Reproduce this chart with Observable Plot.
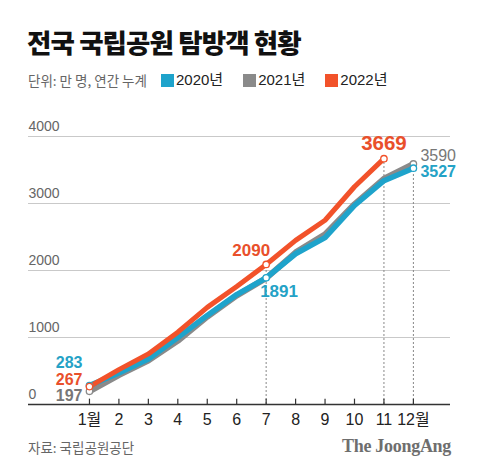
<!DOCTYPE html>
<html><head><meta charset="utf-8">
<script src="https://cdn.jsdelivr.net/npm/d3@7"></script>
<script src="https://cdn.jsdelivr.net/npm/@observablehq/plot@0.6"></script>
<style>
body{margin:0;background:#fff;width:480px;height:475px;position:relative;overflow:hidden;font-family:"Liberation Sans","Noto Sans CJK KR",sans-serif;}
#title{position:absolute;left:27px;top:25px;font-family:"Noto Sans CJK KR";font-weight:900;font-size:26.5px;line-height:34px;color:#111;letter-spacing:-0.9px;white-space:nowrap;}
#sub{position:absolute;left:28px;top:70px;height:20px;font-size:15px;line-height:20px;color:#222;display:flex;align-items:center;white-space:nowrap;}
#sub .unit{color:#666;font-size:13.5px;margin-right:14px;font-family:"Noto Sans CJK KR";}
#sub .key{display:flex;align-items:center;margin-right:20px;}
#sub .sw{width:13px;height:13px;margin-right:2px;}
#chart{position:absolute;left:0;top:100px;}
#src{position:absolute;left:28px;top:437px;font-family:"Noto Sans CJK KR";font-size:13.5px;line-height:20px;color:#666;white-space:nowrap;}
#brand{position:absolute;right:29px;top:435px;font-family:"Liberation Serif";font-weight:bold;font-size:18px;line-height:22px;color:#6e6e6e;letter-spacing:-0.3px;white-space:nowrap;}
</style>
</head><body>
<div id="title">전국 국립공원 탐방객 현황</div>
<div id="sub"></div>
<div id="chart"></div>
<div id="src">자료: 국립공원공단</div>
<div id="brand">The JoongAng</div>
<script>
// ---- data ----
const months = [1,2,3,4,5,6,7,8,9,10,11,12];
const monthLabels = ["1월","2","3","4","5","6","7","8","9","10","11","12월"];
const years = ["2020년","2021년","2022년"];
const v2020 = [283, 470, 680, 1000, 1330, 1640, 1891, 2250, 2490, 2970, 3340, 3527];
const v2021 = [197, 440, 655, 950, 1310, 1625, 1885, 2270, 2540, 2990, 3370, 3590];
const v2022 = [267, 520, 755, 1080, 1450, 1760, 2090, 2450, 2750, 3250, 3669];
const yTicks = [0, 1000, 2000, 3000, 4000];

// ---- style ----
const cBlue = "#1ea3cb", cGray = "#8a8a8a", cOrange = "#f2522a";
const tBlue = "#24a2c6", tGray = "#777", tOrange = "#e9502b";
const colors = [cBlue, cGray, cOrange];

// legend
const sub = document.getElementById("sub");
sub.innerHTML = `<span class="unit">단위: 만 명, 연간 누계</span>` +
  years.map((y,i)=>`<span class="key"><span class="sw" style="background:${colors[i]}"></span>${y}</span>`).join("");

const xMin = -1.07, xMax = 13.26;
const rows = (vals) => vals.map((v,i)=>({m: months[i], v}));
const r2020 = rows(v2020), r2021 = rows(v2021), r2022 = rows(v2022);

const pick = (vals, m) => [{m, v: vals[m-1]}];
const label = (vals, m, fill, o) => Plot.text(pick(vals, m), {x:"m", y:"v", text: d=>String(d.v), fill, fontWeight:"bold", fontSize:16, lineHeight:0.8, ...o});
const dot = (vals, ms, stroke) => Plot.dot(ms.map(m=>({m, v: vals[m-1]})), {x:"m", y:"v", r:3.2, fill:"white", stroke, strokeWidth:1.3});

const guides = [
  {m:7, v:v2022[6]},
  {m:11, v:v2022[10]},
  {m:12, v:v2021[11]}
];

const chart = Plot.plot({
  width: 480,
  height: 330,
  marginLeft: 28,
  marginRight: 30,
  marginTop: 36,
  marginBottom: 26,
  x: {domain: [xMin, xMax], axis: null},
  y: {domain: [0, 4000], axis: null},
  style: {fontFamily: "Liberation Sans, Noto Sans CJK KR, sans-serif", background: "transparent", overflow: "visible"},
  marks: [
    Plot.ruleY(yTicks.slice(1), {x1: xMin, x2: xMax, stroke: "#c9c9c9", strokeWidth: 1}),
    Plot.ruleX(guides, {x:"m", y1:0, y2:"v", stroke:"#888", strokeWidth:1, strokeDasharray:"2,2"}),
    Plot.ruleY([0], {x1: xMin, x2: xMax, stroke: "#333", strokeWidth: 1.3}),
    Plot.ruleX(months, {x: d=>d, y1: 0, y2: 80, stroke: "#333", strokeWidth: 1.2}),
    Plot.text(yTicks, {x: xMin, y: d=>d, text: d=>String(d), textAnchor: "start", dy: -10, fontSize: 14, fill: "#666"}),
    Plot.text(months, {x: d=>d, y: 0, text: (d,i)=>monthLabels[i], dy: 15, fontSize: 16, fill: "#222"}),
    Plot.line(r2021, {x:"m", y:"v", stroke: cGray, strokeWidth: 6, curve: "linear", strokeLinejoin:"round"}),
    Plot.line(r2020, {x:"m", y:"v", stroke: cBlue, strokeWidth: 5.5, strokeLinejoin:"round"}),
    Plot.line(r2022, {x:"m", y:"v", stroke: cOrange, strokeWidth: 5, strokeLinejoin:"round"}),
    dot(v2021, [1,12], cGray),
    dot(v2020, [1,7,12], cBlue),
    dot(v2022, [1,7,11], cOrange),
    label(v2020, 1, tBlue, {textAnchor:"end", dx:-7, dy:-21.5}),
    label(v2022, 1, tOrange, {textAnchor:"end", dx:-7, dy:-5.5}),
    label(v2021, 1, tGray, {textAnchor:"end", dx:-7, dy:5.5}),
    label(v2022, 7, tOrange, {textAnchor:"end", dx:4, dy:-13, fontSize:17}),
    label(v2020, 7, tBlue, {textAnchor:"start", dx:-6, dy:15, fontSize:17}),
    label(v2022, 11, tOrange, {textAnchor:"middle", dy:-14, fontSize:20.5}),
    label(v2021, 12, tGray, {textAnchor:"start", dx:7, dy:-7, fontWeight:"normal"}),
    label(v2020, 12, tBlue, {textAnchor:"start", dx:7, dy:5})
  ]
});
document.getElementById("chart").appendChild(chart);
</script>
</body></html>
